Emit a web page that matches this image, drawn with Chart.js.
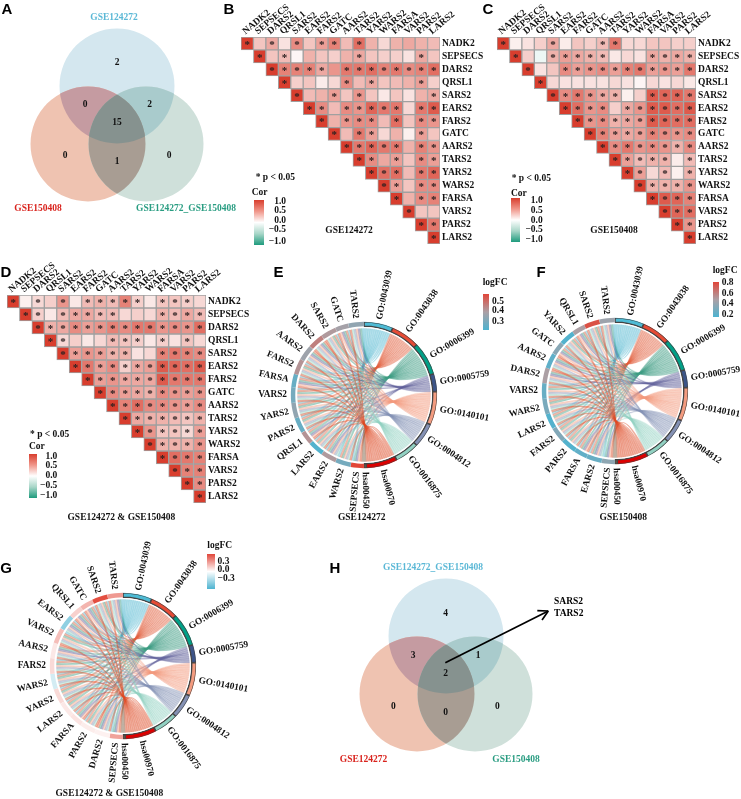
<!DOCTYPE html>
<html lang="en">
<head>
<meta charset="UTF-8" />
<title>mt-aaRS correlation, enrichment and overlap panels</title>
<script src="https://cdn.jsdelivr.net/npm/chart.js"></script>
<style>
  html, body { margin: 0; padding: 0; background: #fff; }
  body { position: relative; width: 741px; height: 799px; overflow: hidden; font-family: "Liberation Serif", serif; }
  canvas { position: absolute; }
  .lbl { position: absolute; font-weight: bold; font-size: 9.5px; line-height: 1; white-space: nowrap; color: #111; }
  .panel { font-family: "Liberation Sans", Arial, sans-serif; font-size: 15px; color: #000; }
  .bar { position: absolute; }
</style>
</head>
<body>
<script>
  // heatmap genes
  const genes = ["NADK2","SEPSECS","DARS2","QRSL1","SARS2","EARS2","FARS2","GATC","AARS2","TARS2","YARS2","WARS2","FARSA","VARS2","PARS2","LARS2"];

  // correlations, upper triangle, each row starts on the diagonal
  const corB = [
    [1,.3,.45,.15,.6,.3,.5,.65,.35,.75,.4,.2,.4,.45,.4,.35],
    [1,.3,.35,.05,.4,.3,.25,.4,.45,.3,.25,.25,.15,.45,.3],
    [1,.65,.65,.65,.45,.55,.7,.7,.75,.65,.7,.6,.65,.75],
    [1,.25,.3,.1,.2,.6,.35,.45,.3,.35,.4,.5,.25],
    [1,.35,.4,.5,.3,.55,.3,.12,.3,.15,.4,.45],
    [1,.6,.35,.6,.55,.8,.7,.7,.2,.7,.85],
    [1,.4,.55,.6,.6,.35,.75,.3,.6,.55],
    [1,.35,.7,.5,.2,.4,.08,.5,.3],
    [1,.7,.8,.7,.7,.4,.65,.55],
    [1,.6,.45,.5,.3,.6,.5],
    [1,.75,.75,.35,.7,.8],
    [1,.5,.3,.6,.6],
    [1,.4,.6,.65],
    [1,.3,.3],
    [1,.7],
    [1]
  ];
  const sigB = ["1010101101000000","101000001000010","11111011111111","1000010100010","100101000001","11011111011","1011101011","101100010","11111011","1101011","111011","11011","1011","100","11","1"];

  const corC = [
    [1,.08,.15,.25,.45,.1,.3,.25,.35,.7,.2,.2,.3,.3,.25,.25],
    [1,.25,-.08,.4,.5,.45,.4,.35,.12,.2,.15,.45,.4,.45,.4],
    [1,.15,.3,.6,.5,.55,.6,.5,.65,.7,.5,.55,.5,.7],
    [1,.2,.15,.15,.15,.15,.2,.15,.05,.2,.15,.2,.12],
    [1,.6,.7,.55,.45,.4,.08,.25,.85,.8,.8,.7],
    [1,.75,.55,.6,.25,.45,.55,.85,.85,.75,.85],
    [1,.55,.6,.4,.45,.5,.85,.8,.75,.75],
    [1,.65,.5,.45,.5,.65,.6,.55,.6],
    [1,.6,.7,.55,.6,.55,.4,.6],
    [1,.5,.35,.4,.4,.1,.35],
    [1,.5,.2,.35,.08,.4],
    [1,.4,.4,.4,.55],
    [1,.85,.8,.65],
    [1,.8,.75],
    [1,.55],
    [1]
  ];
  const sigC = ["1000100011000000","100111110001111","10011111111111","1000000000000","111111001111","11110111111","1111111111","111111111","11111111","1111101","110101","11111","1111","111","11","1"];

  const corD = [
    [1,.08,.2,.25,.55,.12,.35,.4,.35,.65,.25,.12,.3,.3,.25,.2],
    [1,.25,.12,.35,.45,.45,.35,.35,.2,.25,.2,.4,.35,.45,.35],
    [1,.4,.45,.6,.5,.55,.65,.6,.7,.7,.55,.6,.55,.75],
    [1,.2,.25,.12,.2,.35,.3,.25,.12,.25,.15,.3,.2],
    [1,.5,.55,.5,.4,.4,.15,.2,.65,.7,.65,.6],
    [1,.7,.5,.6,.25,.45,.5,.85,.8,.75,.85],
    [1,.5,.55,.45,.45,.45,.85,.7,.7,.7],
    [1,.6,.5,.45,.4,.6,.55,.5,.55],
    [1,.65,.75,.6,.6,.55,.5,.6],
    [1,.45,.4,.4,.35,.3,.4],
    [1,.55,.3,.3,.2,.5],
    [1,.4,.4,.4,.55],
    [1,.75,.7,.65],
    [1,.65,.65],
    [1,.6],
    [1]
  ];
  const sigD = ["1010101111101110","110111110001111","11111111111111","1100011101010","111111001111","11111111111","1111111111","111111111","11111111","1111111","111111","11111","1111","111","11","1"];

  // enrichment terms
  const terms = ["GO:0043039","GO:0043038","GO:0006399","GO:0005759","GO:0140101","GO:0004812","GO:0016875","hsa00970","hsa00450"];
  const termColors = ["#4DBBD5","#E64B35","#00A087","#3C5488","#F39B7F","#8491B4","#91D1C2","#DC0000","#7E6148"];
  const ribbonColors = ["#55B8D2","#E0603F","#3E9C84","#5B5A95","#F39B7F","#8491B4","#91D1C2","#DD4B25","#7E6148"];

  // gene x term membership, one string per gene, same order as terms
  const linkGenes = ["SEPSECS","WARS2","EARS2","LARS2","QRSL1","PARS2","YARS2","VARS2","FARSA","FARS2","AARS2","DARS2","SARS2","GATC","TARS2"];
  const linkRows = ["101110011","111011110","111111100","111011110","111110010","111011110","111011110","111011110","111110010","111011110","011111110","011111110","111011110","111110010","101111110"];

  // genes clockwise from the bottom of each chord, with their logFC
  const orderE = ["SEPSECS","WARS2","EARS2","LARS2","QRSL1","PARS2","YARS2","VARS2","FARSA","FARS2","AARS2","DARS2","SARS2","GATC","TARS2"];
  const fcE = [.55,.33,.42,.28,.43,.31,.37,.33,.31,.43,.39,.46,.42,.4,.37];
  const orderF = ["SEPSECS","EARS2","FARSA","PARS2","FARS2","LARS2","WARS2","VARS2","DARS2","AARS2","GATC","YARS2","QRSL1","SARS2","TARS2"];
  const fcF = [.4,.27,.25,.2,.36,.2,.33,.27,.5,.24,.38,.2,.5,.78,.45];
  const orderG = ["SEPSECS","DARS2","PARS2","FARSA","LARS2","YARS2","WARS2","FARS2","AARS2","VARS2","EARS2","QRSL1","GATC","SARS2","TARS2"];
  const fcG = [.2,.03,.04,.06,.05,.08,-.1,.08,.05,.14,-.25,.1,.16,.38,.22];

  // venn counts: top, top+left, top+right, centre, left, left+right, right
  const vennCountsA = [2,0,2,15,0,1,0];
  const vennCountsH = [4,3,1,2,0,0,0];

  Chart.defaults.font.family = '"Liberation Serif", serif';
  Chart.defaults.font.size = 9.5;
  Chart.defaults.font.weight = "bold";
  Chart.defaults.color = "#111";
  Chart.defaults.animation = false;
  Chart.defaults.plugins.legend.display = false;
  Chart.defaults.plugins.tooltip.enabled = false;

  function addText(x, y, str, opts) {
    opts = opts || {};
    const el = document.createElement("div");
    el.className = "lbl " + (opts.cls || "");
    el.textContent = str;
    el.style.left = x + "px";
    el.style.top = y + "px";
    const tx = opts.align === "left" ? "0" : opts.align === "right" ? "-100%" : "-50%";
    el.style.transform = "translate(" + tx + ",-50%)";
    if (opts.color) el.style.color = opts.color;
    if (opts.size) el.style.fontSize = opts.size + "px";
    document.body.appendChild(el);
  }

  function addCanvas(left, top, w, h) {
    const c = document.createElement("canvas");
    c.width = w;
    c.height = h;
    c.style.left = left + "px";
    c.style.top = top + "px";
    document.body.appendChild(c);
    return c;
  }

  function addBar(x, y, w, h, gradient) {
    const d = document.createElement("div");
    d.className = "bar";
    d.style.cssText = "left:" + x + "px;top:" + y + "px;width:" + w + "px;height:" + h + "px;background:linear-gradient(to bottom," + gradient + ")";
    document.body.appendChild(d);
  }

  function mix(a, b, t) {
    return "rgb(" + a.map((v, i) => Math.round(v + (b[i] - v) * t)).join(",") + ")";
  }

  function corColor(v) {
    return v >= 0 ? mix([255,255,255], [216,62,46], v) : mix([255,255,255], [30,155,125], -v);
  }

  // Heatmap: floating bars on a category x axis and a 0-16 y axis
  function heatmap(left, top, w, h, cor, sig) {
    const pad = 44;
    const datasets = cor.map((row, r) => ({
      data: genes.map((g, c) => c >= r ? [r, r + 1] : null),
      backgroundColor: genes.map((g, c) => c >= r ? corColor(row[c - r]) : "transparent"),
      borderColor: "#a0a0a0",
      borderWidth: 1,
      borderSkipped: false,
      barPercentage: 1,
      categoryPercentage: 1,
      grouped: false
    }));
    new Chart(addCanvas(left - 1, top - pad, w + 62, h + pad + 2), {
      type: "bar",
      data: { labels: genes, datasets: datasets },
      options: {
        responsive: false,
        layout: { padding: { left: 1, bottom: 2, right: 0, top: 0 } },
        scales: {
          x: {
            position: "top",
            grid: { display: false, drawTicks: false },
            border: { display: false },
            ticks: { autoSkip: false, minRotation: 40, maxRotation: 40, padding: 0, labelOffset: 4 },
            afterFit: s => { s.height = pad; s.paddingLeft = 0; s.paddingRight = 0; }
          },
          y: {
            type: "linear",
            position: "right",
            reverse: true,
            min: 0,
            max: 16,
            grid: { display: false, drawTicks: false },
            border: { display: false },
            afterBuildTicks: s => { s.ticks = genes.map((g, i) => ({ value: i + 0.5 })); },
            ticks: { autoSkip: false, padding: 2, callback: (v, i) => genes[i] },
            afterFit: s => { s.width = 61; s.paddingTop = 0; s.paddingBottom = 0; }
          }
        }
      },
      plugins: [{
        id: "stars",
        afterDatasetsDraw(chart) {
          const ctx = chart.ctx;
          ctx.save();
          ctx.font = "bold 11px 'Liberation Serif'";
          ctx.fillStyle = "#2b2020";
          ctx.textAlign = "center";
          ctx.textBaseline = "middle";
          sig.forEach((row, r) => {
            const bars = chart.getDatasetMeta(r).data;
            for (let i = 0; i < row.length; i++) {
              if (row[i] !== "1") continue;
              const p = bars[r + i].getCenterPoint();
              ctx.fillText("*", p.x, p.y + 1.5);
            }
          });
          ctx.restore();
        }
      }]
    });
  }

  // Chord: the ring is a doughnut, ribbons hang off its arc elements
  function chord(cx, cy, order, fc, colorOf) {
    const size = 290;
    const rows = order.map(g => linkRows[linkGenes.indexOf(g)]);
    const termCounts = terms.map((t, i) => rows.filter(r => r[i] === "1").length);
    const geneCounts = rows.map(r => r.split("").filter(ch => ch === "1").length);
    const labels = terms.concat(order);
    new Chart(addCanvas(cx - size / 2, cy - size / 2, size, size), {
      type: "doughnut",
      data: {
        labels: labels,
        datasets: [{
          data: termCounts.concat(geneCounts),
          backgroundColor: termColors.concat(fc.map(colorOf)),
          borderColor: terms.map(() => "#444").concat(order.map(() => "#fff")),
          borderWidth: terms.map(() => 0.7).concat(order.map(() => 0)),
          borderAlign: "inner",
          spacing: 1
        }]
      },
      options: { responsive: false, radius: 73, cutout: "93%" },
      plugins: [{
        id: "ribbons",
        beforeDatasetsDraw(chart) {
          const arcs = chart.getDatasetMeta(0).data;
          const ctx = chart.ctx;
          const n = terms.length;
          const R = 66.5;
          const x0 = arcs[0].x, y0 = arcs[0].y;
          ctx.save();
          terms.forEach((t, ti) => {
            const a = arcs[ti];
            const aStep = (a.endAngle - a.startAngle) / termCounts[ti];
            let k = 0;
            rows.forEach((row, gi) => {
              if (row[ti] !== "1") return;
              const g = arcs[n + gi];
              const bStep = (g.endAngle - g.startAngle) / geneCounts[gi];
              const slot = row.slice(ti + 1).split("").filter(ch => ch === "1").length;
              const a0 = a.startAngle + aStep * k, a1 = a0 + aStep;
              const b0 = g.startAngle + bStep * slot, b1 = b0 + bStep;
              ctx.beginPath();
              ctx.arc(x0, y0, R, a0, a1);
              ctx.quadraticCurveTo(x0, y0, x0 + R * Math.cos(b0), y0 + R * Math.sin(b0));
              ctx.arc(x0, y0, R, b0, b1);
              ctx.quadraticCurveTo(x0, y0, x0 + R * Math.cos(a0), y0 + R * Math.sin(a0));
              ctx.closePath();
              ctx.globalAlpha = 0.42;
              ctx.fillStyle = ribbonColors[ti];
              ctx.fill();
              ctx.lineWidth = 0.35;
              ctx.strokeStyle = ribbonColors[ti];
              ctx.stroke();
              k++;
            });
          });
          ctx.restore();
        },
        afterDatasetsDraw(chart) {
          const arcs = chart.getDatasetMeta(0).data;
          const ctx = chart.ctx;
          ctx.save();
          ctx.font = "bold 9.3px 'Liberation Serif'";
          ctx.fillStyle = "#111";
          ctx.textBaseline = "middle";
          arcs.forEach((a, i) => {
            const mid = (a.startAngle + a.endAngle) / 2;
            const right = Math.cos(mid) >= 0;
            ctx.save();
            ctx.translate(a.x + (a.outerRadius + 4) * Math.cos(mid), a.y + (a.outerRadius + 4) * Math.sin(mid));
            ctx.rotate(right ? mid : mid + Math.PI);
            ctx.textAlign = right ? "left" : "right";
            ctx.fillText(labels[i], 0, 0);
            ctx.restore();
          });
          ctx.restore();
        }
      }]
    });
  }

  // Venn: bubbles on page-sized scales; overlaps are repainted through clips
  const vennRadius = 57.5;
  const vennFill = ["#d4e7ef", "#efc3b1", "#cfe0da"];
  const vennOverlap = [
    { sets: [0, 1], color: "#c59ba1" },
    { sets: [0, 2], color: "#a9cbcc" },
    { sets: [1, 2], color: "#a89d93" },
    { sets: [0, 1, 2], color: "#86928f" }
  ];

  function venn(left, top, w, h, centres, counts, countPos, arrow) {
    const datasets = [
      {
        data: centres.map(c => ({ x: c[0], y: c[1], r: vennRadius })),
        backgroundColor: vennFill,
        borderWidth: 0,
        clip: false,
        order: 3
      },
      {
        data: countPos.map(c => ({ x: c[0], y: c[1], r: 0 })),
        backgroundColor: "transparent",
        borderWidth: 0,
        order: 2
      }
    ];
    if (arrow) {
      datasets.push({
        type: "line",
        data: arrow.map(p => ({ x: p[0], y: p[1] })),
        borderColor: "#000",
        borderWidth: 1.7,
        pointRadius: 0,
        order: 1
      });
    }
    new Chart(addCanvas(left, top, w, h), {
      type: "bubble",
      data: { datasets: datasets },
      options: {
        responsive: false,
        layout: { autoPadding: false },
        scales: {
          x: { type: "linear", display: false, min: left, max: left + w },
          y: { type: "linear", display: false, reverse: true, min: top, max: top + h }
        }
      },
      plugins: [{
        id: "vennParts",
        afterDatasetDraw(chart, args) {
          if (args.index !== 0) return;
          const ctx = chart.ctx;
          const pts = chart.getDatasetMeta(0).data;
          vennOverlap.forEach(o => {
            ctx.save();
            o.sets.forEach(s => {
              ctx.beginPath();
              ctx.arc(pts[s].x, pts[s].y, vennRadius, 0, Math.PI * 2);
              ctx.clip();
            });
            ctx.fillStyle = o.color;
            ctx.fillRect(0, 0, chart.width, chart.height);
            ctx.restore();
          });
        },
        afterDraw(chart) {
          const ctx = chart.ctx;
          ctx.save();
          ctx.font = "bold 9.5px 'Liberation Serif'";
          ctx.fillStyle = "#111";
          ctx.textAlign = "center";
          ctx.textBaseline = "middle";
          chart.getDatasetMeta(1).data.forEach((p, i) => ctx.fillText(String(counts[i]), p.x, p.y));
          if (arrow) {
            const line = chart.getDatasetMeta(2).data;
            const end = line[1], ang = Math.atan2(end.y - line[0].y, end.x - line[0].x);
            ctx.strokeStyle = "#000";
            ctx.lineWidth = 1.7;
            ctx.beginPath();
            [0.5, -0.5].forEach(d => {
              ctx.moveTo(end.x, end.y);
              ctx.lineTo(end.x - 11 * Math.cos(ang + d), end.y - 11 * Math.sin(ang + d));
            });
            ctx.stroke();
          }
          ctx.restore();
        }
      }]
    });
  }

  // panel A
  venn(0, 0, 240, 225, [[117,86],[88,144],[146,144]], vennCountsA,
    [[117,63],[85,105],[149.5,105],[117,123],[65,156],[117,162],[169,156]]);
  addText(114, 18, "GSE124272", { color: "#5bb8d6" });
  addText(38, 209, "GSE150408", { color: "#d9231d" });
  addText(186, 209, "GSE124272_GSE150408", { color: "#2a9d82" });

  // panel H
  venn(340, 550, 300, 240, [[446,636],[417,694],[475,694]], vennCountsH,
    [[445.7,613.7],[413,655.7],[478,655.7],[445.7,673.7],[393.3,706.3],[445.7,712.3],[497.3,706.3]],
    [[445.3,662.7],[548.3,611]]);
  addText(433, 568, "GSE124272_GSE150408", { color: "#5bb8d6" });
  addText(363.5, 760, "GSE124272", { color: "#d9231d" });
  addText(516, 760, "GSE150408", { color: "#2a9d82" });
  addText(554, 602, "SARS2", { align: "left", color: "#000" });
  addText(554, 613.5, "TARS2", { align: "left", color: "#000" });

  // heatmaps
  heatmap(240.7, 37.3, 199.3, 207.7, corB, sigB);
  heatmap(497.3, 36.7, 199.7, 207.3, corC, sigC);
  heatmap(7.3, 295, 199.4, 208.3, corD, sigD);

  const corGrad = "#d83e2e 0%,#f0968a 25%,#fff 50%,#a8d6c8 75%,#1e9b7d 100%";
  const corTicks = ["1.0", "0.5", "0.0", "\u22120.5", "\u22121.0"];
  function corLegend(barX, barY, barW, barH, tickRight, tickY, corX, corY, pX, pY) {
    addBar(barX, barY, barW, barH, corGrad);
    corTicks.forEach((t, i) => addText(tickRight, tickY[i], t, { align: "right" }));
    addText(corX, corY, "Cor", { align: "left" });
    addText(pX, pY, "* p < 0.05", { align: "left" });
  }
  corLegend(254.3, 200, 9.5, 45, 286, [202,211,220.7,230,241.7], 251.7, 192.7, 255.7, 178);
  corLegend(510.7, 198.3, 9.3, 43.4, 542.7, [201,210.7,220.7,230.3,240], 511, 194, 511.7, 179);
  corLegend(29.3, 454.3, 8, 44, 57.3, [456.7,466.3,476,486,495.7], 29, 446.7, 30, 435.3);
  addText(349, 231, "GSE124272");
  addText(614, 230.7, "GSE150408");
  addText(121.3, 518.3, "GSE124272 & GSE150408");

  // chord diagrams
  const blue = [77,179,208], grey = [172,160,165], red = [225,70,55];
  const ramp = (lo, hi) => v => {
    const t = (v - lo) / (hi - lo);
    return t < 0.5 ? mix(blue, grey, t * 2) : mix(grey, red, t * 2 - 1);
  };
  const rampZero = v => v >= 0 ? mix([255,255,255], red, Math.min(v / 0.4, 1)) : mix([255,255,255], blue, Math.min(-v / 0.4, 1));
  chord(364, 394.5, orderE, fcE, ramp(.27, .55));
  chord(614.5, 390.5, orderF, fcF, ramp(.18, .82));
  chord(122.5, 666, orderG, fcG, rampZero);

  const fcGrad = "#e1463a,#aca0a5,#4db3d0";
  addBar(482.7, 294.3, 6.6, 35.7, fcGrad);
  addText(482.7, 283, "logFC", { align: "left" });
  [["0.5",301.7],["0.4",311],["0.3",322]].forEach(t => addText(492, t[1], t[0], { align: "left" }));
  addText(361.7, 518.3, "GSE124272");

  addBar(712.7, 281.7, 6.3, 35.6, fcGrad);
  addText(712.7, 270.7, "logFC", { align: "left" });
  [["0.8",283],["0.6",293.7],["0.4",304.3],["0.2",315.3]].forEach(t => addText(721.7, t[1], t[0], { align: "left" }));
  addText(623.3, 518.3, "GSE150408");

  addBar(207.3, 554, 7.4, 35.3, "#e1463a,#fff,#4db3d0");
  addText(207.3, 546, "logFC", { align: "left" });
  [["0.3",561.7],["0.0",570.3],["\u22120.3",579.3]].forEach(t => addText(217.5, t[1], t[0], { align: "left" }));
  addText(109.3, 794, "GSE124272 & GSE150408");

  // panel letters
  [["A",7,8],["B",229,8],["C",488,8],["D",6,271],["E",278.5,271],["F",541,271],["G",6,567],["H",335,567]]
    .forEach(p => addText(p[1], p[2], p[0], { cls: "panel" }));
</script>
</body>
</html>
